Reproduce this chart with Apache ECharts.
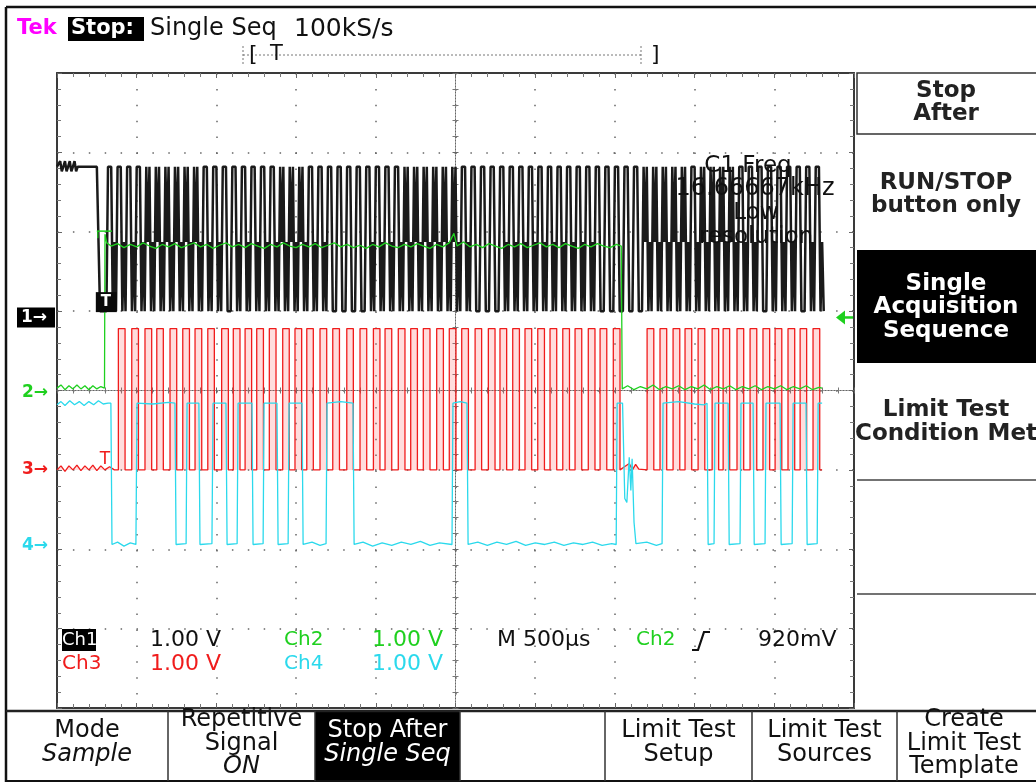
<!DOCTYPE html>
<html><head><meta charset="utf-8">
<script src="https://cdn.jsdelivr.net/npm/echarts@6/dist/echarts.min.js"></script>
<style>html,body{margin:0;padding:0;background:#fff;}#c{width:1036px;height:782px;}</style>
</head><body><div id="c"></div>
<script>
// ---------------- DATA (time in µs from left edge of screen, volts at 1 V/div) ----------------
const timePerDiv = 500;          // M 500µs
const screenTime = 5000;         // 10 divisions
const sampleUs = 10;             // 100kS/s
const triggerUs = 300;           // trigger point
const chOffsets = { ch1: 0.92, ch2: 0.0, ch3: -1.0, ch4: -1.96 };   // ground marker positions (div)
const trigLevel = 0.92;          // Ch2 rising, 920mV

// Ch1: sample codes -> level (V above ground)
const ch1Levels = [0.08, 0.95, 1.90, 1.97, 1.84];
const ch1PreTrigger = "22342342342342222222222222200000";
const ch1PatternA = "222000";
const ch1PatternB = "222010";
const ch1PatternD = "212010";
const ch1Periods = "BBBBDDDDDDBBABBBBBDDDBBAAAABBBBDDDDDDBAAABBBBBBBBBBAAAAADDDDDBDDDDBBABBBABB";

// Ch2: [µs, V]
const ch2Points = [[0,0.03],[25,0.07],[50,0.01],[75,0.06],[100,0.02],[125,0.07],[150,0.02],[175,0.06],[200,0.01],[225,0.06],[250,0.02],[275,0.05],[298,0.03],
[301,1.97],[312,1.86],[340,1.82],[380,1.85],[420,1.80],[460,1.84],[500,1.81],[540,1.86],[580,1.82],[620,1.79],[660,1.84],[700,1.81],[740,1.85],[780,1.80],[820,1.83],[860,1.86],[900,1.81],[940,1.84],[980,1.79],[1020,1.83],[1060,1.86],[1100,1.81],[1140,1.84],[1180,1.80],[1220,1.85],[1260,1.82],[1300,1.79],[1340,1.84],[1380,1.81],[1420,1.86],[1460,1.82],[1500,1.80],[1540,1.84],[1580,1.81],[1620,1.85],[1660,1.80],[1700,1.83],[1740,1.86],[1780,1.81],[1820,1.84],[1860,1.80],[1900,1.83],[1940,1.79],[1980,1.84],[2020,1.81],[2060,1.86],[2100,1.82],[2140,1.80],[2180,1.84],[2220,1.81],[2260,1.85],[2300,1.82],[2340,1.79],[2380,1.84],[2420,1.81],[2460,1.86],[2490,1.98],[2510,1.82],[2550,1.87],[2590,1.81],[2630,1.84],[2670,1.80],[2710,1.85],[2750,1.82],[2790,1.79],[2830,1.84],[2870,1.81],[2910,1.85],[2950,1.80],[2990,1.83],[3030,1.86],[3070,1.81],[3110,1.84],[3150,1.80],[3190,1.85],[3230,1.82],[3270,1.79],[3310,1.84],[3350,1.81],[3390,1.85],[3430,1.82],[3470,1.80],[3510,1.84],[3540,1.82],
[3546,0.02],[3580,0.06],[3620,0.01],[3660,0.05],[3700,0.02],[3740,0.07],[3780,0.01],[3820,0.05],[3860,0.02],[3900,0.06],[3940,0.01],[3980,0.05],[4020,0.02],[4060,0.07],[4100,0.01],[4140,0.05],[4180,0.02],[4220,0.06],[4260,0.01],[4300,0.05],[4340,0.02],[4380,0.06],[4420,0.01],[4460,0.05],[4500,0.02],[4540,0.06],[4580,0.01],[4620,0.05],[4660,0.02],[4700,0.06],[4740,0.01],[4780,0.04],[4800,0.03]];

// Ch3: pre-trigger [µs, V], then pulses [rise µs, fall µs]
const ch3Low = 0.0, ch3High = 1.78;
const ch3PreTrigger = [[0,0.0],[25,0.05],[50,-0.02],[75,0.05],[100,0.0],[125,0.06],[150,-0.01],[175,0.05],[200,0.0],[225,0.06],[250,-0.01],[275,0.05],[300,0.0],[330,0.04],[360,0.0]];
const ch3Pulses = [[385,427],[469,511],[552,594],[626,667],[709,751],[789,831],[866,908],[946,987],[1033,1075],[1106,1148],[1180,1221],[1253,1295],[1332,1374],[1416,1457],[1493,1535],[1567,1608],[1650,1692],[1730,1772],[1818,1859],[1901,1943],[1985,2026],[2058,2100],[2141,2183],[2219,2261],[2298,2340],[2382,2424],[2461,2503],[2539,2581],[2623,2664],[2706,2748],[2779,2821],[2859,2901],[2936,2978],[3016,3058],[3093,3135],[3173,3215],[3250,3292],[3333,3375],[3407,3449],[3490,3532],[3702,3744],[3783,3825],[3865,3907],[3940,3982],[4022,4064],[4110,4151],[4179,4220],[4266,4308],[4348,4390],[4429,4471],[4505,4547],[4586,4628],[4662,4703],[4743,4785]];
const ch3GapNoise = [[3560,0.04],[3590,0.08],[3610,0.0],[3630,0.07],[3650,0.01]];

// Ch4: [µs, V]
const ch4Points = [[0,1.78],[25,1.82],[50,1.77],[80,1.83],[110,1.78],[140,1.82],[170,1.77],[200,1.82],[230,1.78],[260,1.83],[290,1.79],[320,1.80],[338,1.80],[345,0.02],
[380,0.05],[420,0.0],[460,0.04],[495,0.02],[502,1.80],[600,1.79],[700,1.81],[740,1.80],[747,0.02],[810,0.03],[816,1.80],[890,1.80],[897,0.02],[972,0.03],[979,1.80],[1060,1.80],[1067,0.02],[1130,0.03],[1136,1.80],[1223,1.80],[1230,0.02],[1293,0.03],[1299,1.80],[1380,1.80],[1387,0.02],[1450,0.03],[1456,1.80],[1537,1.80],[1544,0.02],[1600,0.05],[1650,0.01],[1688,0.03],[1694,1.80],[1780,1.82],[1857,1.80],[1864,0.02],
[1920,0.05],[1980,0.0],[2040,0.04],[2100,0.01],[2160,0.05],[2220,0.02],[2280,0.06],[2340,0.01],[2400,0.04],[2478,0.02],[2484,1.80],[2530,1.82],[2572,1.80],[2579,0.02],
[2640,0.05],[2700,0.01],[2760,0.05],[2820,0.02],[2880,0.06],[2940,0.01],[3000,0.04],[3060,0.02],[3120,0.05],[3180,0.01],[3240,0.04],[3300,0.02],[3360,0.05],[3420,0.01],[3480,0.03],[3508,0.02],[3514,1.80],[3548,1.80],[3562,0.60],[3575,0.55],[3590,1.12],[3600,0.70],[3608,1.10],[3620,0.30],[3632,0.03],
[3700,0.05],[3760,0.01],[3796,0.03],[3802,1.80],[3900,1.82],[4000,1.79],[4060,1.78],[4078,1.80],[4085,0.02],[4122,0.03],[4128,1.80],[4210,1.80],[4217,0.02],[4285,0.03],[4291,1.80],[4367,1.80],[4374,0.02],[4442,0.03],[4448,1.80],[4536,1.80],[4543,0.02],[4612,0.03],[4618,1.80],[4699,1.80],[4706,0.02],[4769,0.03],[4775,1.80],[4800,1.80]];

// Readouts
const headerTexts = { brand: "Tek", state: "Stop:", mode: "Single Seq", rate: "100kS/s" };
const measTexts = ["C1 Freq", "16.66667kHz", "Low", "resolution"];
const scaleTexts = { ch1: "1.00 V", ch2: "1.00 V", ch3: "1.00 V", ch4: "1.00 V", time: "M 500µs", trigSrc: "Ch2", trigLevel: "920mV" };
const sideMenu = [["Stop", "After"], ["RUN/STOP", "button only"], ["Single", "Acquisition", "Sequence"], ["Limit Test", "Condition Met"]];
const bottomMenu = [["Mode", "Sample"], ["Repetitive", "Signal", "ON"], ["Stop After", "Single Seq"], [], ["Limit Test", "Setup"], ["Limit Test", "Sources"], ["Create", "Limit Test", "Template"]];

// ---------------- BUILD ----------------
const COL = { ch1: '#1a1a1a', ch2: '#1fd01f', ch3: '#f01c1c', ch4: '#2bd9ec', magenta: '#ff00ff' };
const FONT_C = "'DejaVu Sans',sans-serif";
const FONT_M = "'DejaVu Sans',sans-serif";

const patMap = { A: ch1PatternA, B: ch1PatternB, D: ch1PatternD };
const ch1Codes = ch1PreTrigger + ch1Periods.split('').map(c => patMap[c]).join('');
const ch1Data = ch1Codes.split('').map((c, i) => [i * sampleUs, chOffsets.ch1 + ch1Levels[+c]]);
const ch2Data = ch2Points.map(p => [p[0], chOffsets.ch2 + p[1]]);
const ch3Raw = ch3PreTrigger.slice();
ch3Pulses.forEach(([r, f], k) => {
  ch3Raw.push([r, ch3Low], [r, ch3High], [f, ch3High], [f, ch3Low]);
  if (k === 39) ch3GapNoise.forEach(p => ch3Raw.push(p));
});
ch3Raw.push([4800, ch3Low]);
const ch3Data = ch3Raw.map(p => [p[0], chOffsets.ch3 + p[1]]);
const ch4Data = ch4Points.map(p => [p[0], chOffsets.ch4 + p[1]]);

const G = { left: 57, top: 73, width: 797, height: 635 };

function borderAxis(extra) {
  return Object.assign({
    type: 'value', axisLabel: { show: false },
    axisLine: { show: true, onZero: false, lineStyle: { color: '#3a3a3a', width: 2 } },
    axisTick: { show: true, inside: true, length: 5, lineStyle: { color: '#666', width: 1 } },
    minorTick: { show: true, splitNumber: 5, length: 4, lineStyle: { color: '#777', width: 1 } },
    splitLine: { show: false }
  }, extra);
}
function centerAxis(extra, inside) {
  return Object.assign({
    type: 'value', axisLabel: { show: false }, interval: 1,
    axisLine: { show: true, onZero: true, lineStyle: { color: '#666', width: 1, type: [1, 2] } },
    axisTick: { show: true, inside: inside, length: 3, lineStyle: { color: '#666', width: 1 } },
    minorTick: { show: true, splitNumber: 5, length: 3, lineStyle: { color: '#777', width: 1 } },
    splitLine: { show: false }
  }, extra);
}
const dotLine = { show: true, lineStyle: { color: '#666', width: 1.5, type: [1.5, 14.4] } };

function lineSeries(name, data, color, z, extra) {
  return Object.assign({
    type: 'line', name, data, xAxisIndex: 0, yAxisIndex: 0, showSymbol: false, symbol: 'none',
    lineStyle: { color, width: 1.3 }, z, silent: true, animation: false
  }, extra || {});
}

const chart = echarts.init(document.getElementById('c'), null, { renderer: 'canvas' });
chart.setOption({
  animation: false,
  backgroundColor: '#fff',
  grid: [Object.assign({}, G), Object.assign({}, G), Object.assign({}, G)],
  xAxis: [
    borderAxis({ gridIndex: 0, position: 'bottom', min: 0, max: screenTime, interval: timePerDiv, splitLine: dotLine }),
    borderAxis({ gridIndex: 0, position: 'top', min: 0, max: screenTime, interval: timePerDiv }),
    centerAxis({ gridIndex: 1, min: -5, max: 5 }, true),
    centerAxis({ gridIndex: 2, min: -5, max: 5 }, false)
  ],
  yAxis: [
    borderAxis({ gridIndex: 0, position: 'left', min: -4, max: 4, interval: 1, splitLine: dotLine }),
    borderAxis({ gridIndex: 0, position: 'right', min: -4, max: 4, interval: 1 }),
    centerAxis({ gridIndex: 1, min: -4, max: 4 }, true),
    centerAxis({ gridIndex: 2, min: -4, max: 4 }, false)
  ],
  series: [
    lineSeries('Ch1', ch1Data, COL.ch1, 3, { lineStyle: { color: COL.ch1, width: 2.5 } }),
    lineSeries('Ch3', ch3Data, COL.ch3, 4, { areaStyle: { origin: chOffsets.ch3 + ch3Low, color: 'rgba(255,80,80,0.28)' } }),
    lineSeries('Ch4', ch4Data, COL.ch4, 5),
    lineSeries('Ch2', ch2Data, COL.ch2, 6)
  ]
});

// ---------------- GRAPHICS (readouts, menus, markers) ----------------
const px = (t, v) => chart.convertToPixel({ gridIndex: 0 }, [t, v]);
function T(text, x, y, o) {
  o = o || {};
  return { type: 'text', silent: true, z: 100, style: { text, x, y, fill: o.fill || '#111',
    font: (o.italic ? 'italic ' : '') + (o.weight || 'normal') + ' ' + (o.size || 20) + 'px ' + (o.family || FONT_C),
    align: o.align || 'left', verticalAlign: 'middle' } };
}
function R(x, y, w, h, fill, stroke, lw) {
  return { type: 'rect', silent: true, z: 90, shape: { x, y, width: w, height: h },
    style: { fill: fill || 'none', stroke: stroke || null, lineWidth: lw || 0 } };
}
function L(x1, y1, x2, y2, color, w, dash) {
  return { type: 'line', silent: true, z: 95, shape: { x1, y1, x2, y2 },
    style: { stroke: color || '#222', lineWidth: w || 1, lineDash: dash || null } };
}

const g = [];
// outer frame
g.push(L(6, 7, 1036, 7, '#111', 2.5), L(6, 7, 6, 782, '#111', 2.5), L(6, 781, 1036, 781, '#111', 2));
// header
g.push(T(headerTexts.brand, 17, 29, { fill: COL.magenta, size: 21, weight: 'bold' }));
g.push(R(68, 17, 76, 24, '#000'));
g.push(T(headerTexts.state, 71, 29, { fill: '#fff', size: 21, weight: 'bold' }));
g.push(T(headerTexts.mode, 150, 29, { size: 24 }));
g.push(T(headerTexts.rate, 294, 29, { size: 25 }));
// record bar
g.push(L(243, 55, 641, 55, '#777', 1, [2, 2]), L(243, 46, 243, 64, '#777', 1, [2, 2]), L(641, 46, 641, 64, '#777', 1, [2, 2]));
g.push(T('[', 249, 55, { size: 22 }), T('T', 270, 55, { size: 21 }), T(']', 651, 55, { size: 22 }));

// channel ground markers
const m1 = px(0, chOffsets.ch1), m2 = px(0, chOffsets.ch2), m3 = px(0, chOffsets.ch3), m4 = px(0, chOffsets.ch4);
g.push(R(17, m1[1] - 10, 38, 20, '#000'));
g.push(T('1→', 21, m1[1], { fill: '#fff', size: 17, weight: 'bold' }));
g.push(T('2→', 22, m2[1] + 2, { fill: COL.ch2, size: 17, weight: 'bold' }));
g.push(T('3→', 22, m3[1], { fill: COL.ch3, size: 17, weight: 'bold' }));
g.push(T('4→', 22, m4[1], { fill: COL.ch4, size: 17, weight: 'bold' }));
// trigger level arrow (right)
const tl = px(screenTime, chOffsets.ch2 + trigLevel);
g.push({ type: 'polygon', silent: true, z: 96, shape: { points: [[tl[0] - 18, tl[1]], [tl[0] - 9, tl[1] - 7], [tl[0] - 9, tl[1] + 7]] }, style: { fill: COL.ch2 } });
g.push(L(tl[0] - 10, tl[1], tl[0] - 1, tl[1], COL.ch2, 2.5));
// trigger T indicators at trigger time
const tp1 = px(triggerUs, chOffsets.ch1 + ch1Levels[0]);
g.push(R(tp1[0] - 9, tp1[1] - 19, 21, 20, '#0a0a0a'));
g.push(T('T', tp1[0] + 1, tp1[1] - 9, { fill: '#fff', size: 15, weight: 'bold', align: 'center' }));
const tp3 = px(triggerUs, chOffsets.ch3 + ch3Low);
g.push(T('T', tp3[0], tp3[1] - 10, { fill: COL.ch3, size: 17, align: 'center' }));
const tp2 = px(triggerUs, chOffsets.ch2 + 1.97);
g.push(L(tp2[0] - 8, tp2[1] - 3, tp2[0] + 7, tp2[1] - 3, COL.ch2, 1.5), L(tp2[0] - 7, tp2[1] - 3, tp2[0] - 7, tp2[1] + 4, COL.ch2, 1.2));

// measurement overlay
g.push(T(measTexts[0], 748, 166, { size: 23, align: 'center' }));
g.push(T(measTexts[1], 755, 189, { size: 24, align: 'center' }));
g.push(T(measTexts[2], 756, 213, { size: 23, align: 'center' }));
g.push(T(measTexts[3], 756, 237, { size: 23, align: 'center' }));

// scale readouts
g.push(R(62, 629, 34, 22, '#000'));
g.push(T('Ch1', 62, 640, { fill: '#fff', size: 18 }));
g.push(T(scaleTexts.ch1, 150, 640, { size: 22 }));
g.push(T('Ch2', 284, 640, { fill: COL.ch2, size: 20 }));
g.push(T(scaleTexts.ch2, 372, 640, { fill: COL.ch2, size: 22 }));
g.push(T(scaleTexts.time, 497, 640, { size: 22 }));
g.push(T(scaleTexts.trigSrc, 636, 640, { fill: COL.ch2, size: 20 }));
g.push({ type: 'polyline', silent: true, z: 96, shape: { points: [[692, 650], [698, 650], [704, 632], [710, 632]] }, style: { stroke: '#111', lineWidth: 2.2, fill: null } });
g.push(T(scaleTexts.trigLevel, 758, 640, { size: 22 }));
g.push(T('Ch3', 62, 664, { fill: COL.ch3, size: 20 }));
g.push(T(scaleTexts.ch3, 150, 664, { fill: COL.ch3, size: 22 }));
g.push(T('Ch4', 284, 664, { fill: COL.ch4, size: 20 }));
g.push(T(scaleTexts.ch4, 372, 664, { fill: COL.ch4, size: 22 }));

// side menu
const sx = 946;
const sm = { family: FONT_M, size: 23, weight: 'bold', align: 'center', fill: '#222' };
g.push(R(857, 73, 185, 61, null, '#333', 1.5));
g.push(T(sideMenu[0][0], sx, 91, sm));
g.push(T(sideMenu[0][1], sx, 114, sm));
g.push(T(sideMenu[1][0], sx, 183, sm));
g.push(T(sideMenu[1][1], sx, 206, sm));
g.push(R(857, 250, 185, 113, '#000'));
const smw = Object.assign({}, sm, { fill: '#fff' });
g.push(T(sideMenu[2][0], sx, 284, smw));
g.push(T(sideMenu[2][1], sx, 307, smw));
g.push(T(sideMenu[2][2], sx, 331, smw));
g.push(T(sideMenu[3][0], sx, 410, sm));
g.push(T(sideMenu[3][1], sx, 434, sm));
g.push(L(857, 480, 1036, 480, '#444', 1.5), L(857, 594, 1036, 594, '#444', 1.5));

// bottom menu
g.push(L(6, 711, 1036, 711, '#222', 2.5));
const seps = [168, 315, 460, 605, 752, 897];
seps.forEach(x => g.push(L(x, 711, x, 781, '#333', 1.5)));
g.push(R(315, 711, 145, 70, '#000'));
const bounds = [6].concat(seps).concat([1036]);
bottomMenu.forEach((lines, i) => {
  const cx = i === 6 ? 964 : (bounds[i] + bounds[i + 1]) / 2;
  const ys = lines.length === 3 ? [720, 744, 767] : [731, 755];
  lines.forEach((s, j) => {
    const italic = (i <= 2 && j === lines.length - 1);
    g.push(T(s, cx, ys[j], { size: 24, align: 'center', italic, fill: i === 2 ? '#fff' : '#111' }));
  });
});

chart.setOption({ graphic: g });
</script></body></html>
